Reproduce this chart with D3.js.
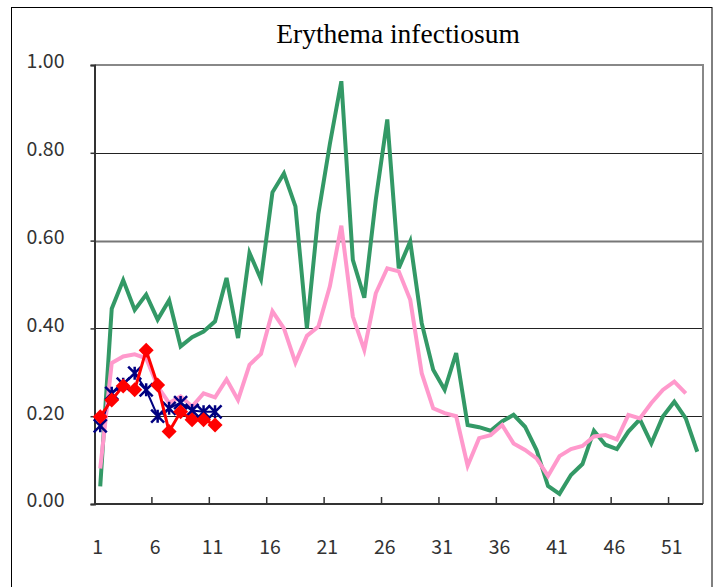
<!DOCTYPE html>
<html>
<head>
<meta charset="utf-8">
<script src="https://cdn.jsdelivr.net/npm/d3@7"></script>
<style>
  body { margin: 0; background: #fff; }
  svg { display: block; }
</style>
</head>
<body>
<div id="chart"></div>
<script>
// weekly values, weeks 1..53
var weeks = d3.range(1, 54);
var greenVals = [0.04, 0.445, 0.51, 0.442, 0.477, 0.42, 0.464, 0.359, 0.38, 0.393,
  0.416, 0.515, 0.378, 0.572, 0.512, 0.71, 0.753, 0.678, 0.40, 0.661,
  0.82, 0.963, 0.556, 0.47, 0.693, 0.876, 0.537, 0.598, 0.412, 0.306,
  0.26, 0.344, 0.18, 0.175, 0.167, 0.188, 0.203, 0.176, 0.123, 0.041,
  0.023, 0.066, 0.091, 0.167, 0.135, 0.125, 0.165, 0.193, 0.138, 0.199,
  0.233, 0.195, 0.119];
var pinkVals = [0.081, 0.321, 0.336, 0.341, 0.332, 0.268, 0.23, 0.245, 0.222, 0.252,
  0.243, 0.284, 0.237, 0.317, 0.342, 0.439, 0.40, 0.322, 0.383, 0.404,
  0.496, 0.634, 0.427, 0.351, 0.48, 0.537, 0.53, 0.465, 0.298, 0.218,
  0.207, 0.20, 0.087, 0.15, 0.157, 0.18, 0.138, 0.123, 0.104, 0.064,
  0.109, 0.125, 0.132, 0.154, 0.157, 0.147, 0.203, 0.195, 0.23, 0.26,
  0.279, 0.252];
var redVals = [0.199, 0.237, 0.269, 0.26, 0.35, 0.271, 0.165, 0.21, 0.192, 0.192, 0.18];
var blueVals = [0.178, 0.252, 0.273, 0.298, 0.26, 0.20, 0.218, 0.231, 0.213, 0.21, 0.21];
var yTicks = [0, 0.2, 0.4, 0.6, 0.8, 1.0];
var xLabels = [1, 6, 11, 16, 21, 26, 31, 36, 41, 46, 51];

(function() {
var W = 722, H = 587;
var pl = 94.5, pr = 703, pt = 65, pb = 504;

var svg = d3.select("#chart").append("svg")
  .attr("width", W).attr("height", H);

// outer chart frame
svg.append("rect")
  .attr("x", 11.5).attr("y", 7.5)
  .attr("width", 700.5).attr("height", 620)
  .attr("fill", "none").attr("stroke", "#000").attr("stroke-width", 1);

var x = d3.scaleBand().domain(weeks).range([pl, pr]);
var y = d3.scaleLinear().domain([0, 1]).range([pb, pt]);
var cx = function(w) { return x(w) + x.bandwidth() / 2; };

// title
svg.append("text")
  .attr("x", 398).attr("y", 43)
  .attr("text-anchor", "middle")
  .attr("font-family", "Liberation Serif, Times New Roman, serif")
  .attr("font-size", 27.5)
  .text("Erythema infectiosum");

// gridlines
svg.append("g").selectAll("line")
  .data(yTicks.filter(function(t) { return t > 0 && t < 1; }))
  .enter().append("line")
  .attr("x1", pl).attr("x2", pr)
  .attr("y1", function(d) { return Math.round(y(d)) + 0.5; })
  .attr("y2", function(d) { return Math.round(y(d)) + 0.5; })
  .attr("stroke", function(d) { return d === 0.6 ? "#777" : "#222"; })
  .attr("stroke-width", function(d) { return d === 0.6 ? 2 : 1; });

// plot border top/right
svg.append("path")
  .attr("d", "M" + pl + "," + pt + "H" + pr + "V" + pb)
  .attr("fill", "none").attr("stroke", "#888").attr("stroke-width", 2);

// y axis
var yAxis = svg.append("g")
  .attr("transform", "translate(" + pl + ",0)")
  .call(d3.axisLeft(y).tickValues(yTicks).tickFormat(d3.format(".2f"))
    .tickSize(4).tickPadding(26));
yAxis.select(".domain").attr("stroke", "#333").attr("stroke-width", 2);
yAxis.selectAll(".tick line").attr("stroke", "#333").attr("stroke-width", 1.5);
yAxis.selectAll("text")
  .attr("font-family", "Noto Sans CJK JP, Noto Sans, sans-serif")
  .attr("font-size", 19.5).attr("fill", "#333").attr("dy", "0.15em");

// x axis
var xAxis = svg.append("g")
  .attr("transform", "translate(0," + pb + ")");
xAxis.append("line")
  .attr("x1", pl).attr("x2", pr)
  .attr("stroke", "#333").attr("stroke-width", 2);
xAxis.selectAll("line.tk")
  .data(d3.range(5, 55, 5))
  .enter().append("line").attr("class", "tk")
  .attr("x1", function(d) { return x(d) + x.bandwidth(); })
  .attr("x2", function(d) { return x(d) + x.bandwidth(); })
  .attr("y1", 0).attr("y2", -7)
  .attr("stroke", "#333").attr("stroke-width", 1.5);
xAxis.selectAll("text")
  .data(xLabels)
  .enter().append("text")
  .attr("x", function(d) { return cx(d) - 2.5; })
  .attr("y", 50)
  .attr("text-anchor", "middle")
  .attr("font-family", "Noto Sans CJK JP, Noto Sans, sans-serif")
  .attr("font-size", 19.5).attr("fill", "#333")
  .text(function(d) { return d; });

var line = d3.line()
  .x(function(d, i) { return cx(i + 1); })
  .y(function(d) { return y(d); });

svg.append("path").datum(greenVals)
  .attr("d", line).attr("fill", "none")
  .attr("stroke", "#339966").attr("stroke-width", 4);
svg.append("path").datum(pinkVals)
  .attr("d", line).attr("fill", "none")
  .attr("stroke", "#FF99CC").attr("stroke-width", 4);

// blue series with asterisk markers
svg.append("path").datum(blueVals)
  .attr("d", line).attr("fill", "none")
  .attr("stroke", "#000080").attr("stroke-width", 2);
svg.append("g").selectAll("path")
  .data(blueVals).enter().append("path")
  .attr("d", function(d, i) {
    var px = cx(i + 1), py = y(d), r = 6.5;
    return "M" + (px - r) + "," + (py - r) + "L" + (px + r) + "," + (py + r) +
      "M" + (px - r) + "," + (py + r) + "L" + (px + r) + "," + (py - r) +
      "M" + px + "," + (py - r) + "L" + px + "," + (py + r);
  })
  .attr("stroke", "#000080").attr("stroke-width", 2.5).attr("fill", "none");

// red series with diamond markers
svg.append("path").datum(redVals)
  .attr("d", line).attr("fill", "none")
  .attr("stroke", "#FF0000").attr("stroke-width", 3);
svg.append("g").selectAll("path")
  .data(redVals).enter().append("path")
  .attr("transform", function(d, i) { return "translate(" + cx(i + 1) + "," + y(d) + ")"; })
  .attr("d", "M0,-7.5L7.5,0L0,7.5L-7.5,0Z")
  .attr("fill", "#FF0000");
})();
</script>
</body>
</html>
